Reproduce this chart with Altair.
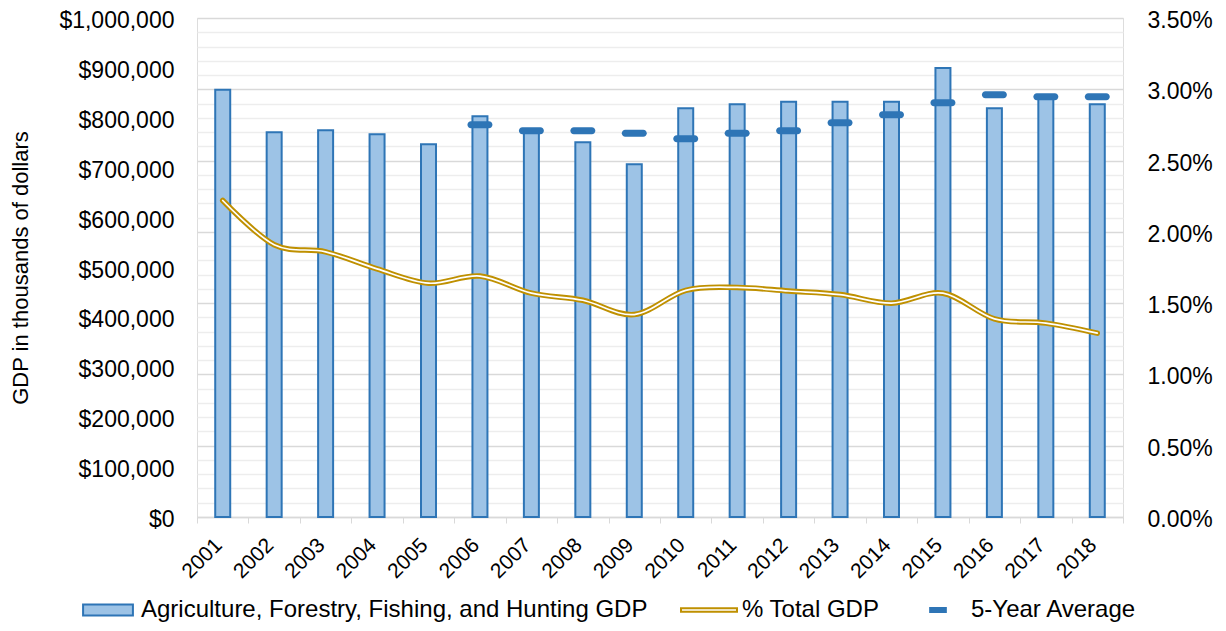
import altair as alt
import pandas as pd

years = [str(y) for y in range(2001, 2019)]
gdp = [856000, 771000, 775000, 767000, 747000, 803000, 772000, 751000, 707000,
       819000, 827000, 832000, 832000, 832000, 900000, 819000, 840000, 827000]
avg5 = [None, None, None, None, None, 786000, 774000, 774000, 769000, 758000,
        769000, 774000, 790000, 806000, 830000, 846000, 842000, 842000]
pct_total = [0.0222, 0.0191, 0.0186, 0.0174, 0.0164, 0.0169, 0.0157, 0.0152, 0.0142,
             0.0159, 0.0161, 0.01585, 0.0156, 0.0150, 0.0157, 0.0139, 0.0136, 0.0129]

gdp_ticks = [0, 100000, 200000, 300000, 400000, 500000, 600000, 700000, 800000, 900000, 1000000]
pct_ticks = [0.000, 0.001, 0.002, 0.003, 0.004, 0.005, 0.006, 0.007, 0.008, 0.009,
             0.010, 0.011, 0.012, 0.013, 0.014, 0.015, 0.016, 0.017, 0.018, 0.019,
             0.020, 0.021, 0.022, 0.023, 0.024, 0.025, 0.026, 0.027, 0.028, 0.029,
             0.030, 0.031, 0.032, 0.033, 0.034, 0.035]
series = ["Agriculture, Forestry, Fishing, and Hunting GDP", "% Total GDP", "5-Year Average"]

df = pd.DataFrame({"year": years, "gdp": gdp, "avg": avg5, "pct": pct_total})
frame_df = pd.DataFrame({"k": [0]})

FONT = "Liberation Sans"
BLUE = "#2E75B6"
LIGHT = "#9DC3E6"
GOLD = "#BF9000"
GRID_MAJOR = "#D9D9D9"
GRID_MINOR = "#EDEDED"

x = alt.X("year:N", title=None,
          scale=alt.Scale(paddingInner=0, paddingOuter=0),
          axis=alt.Axis(labelAngle=-45, labelAlign="right", labelBaseline="top",
                        labelFontSize=21, labelFont=FONT, labelColor="#000000",
                        labelOffset=-12, labelPadding=11,
                        tickBand="extent", tickSize=6, tickColor=GRID_MAJOR, domainColor=GRID_MAJOR,
                        domainWidth=1.5, grid=False))

bars = alt.Chart(df).mark_bar(size=15, fill=LIGHT, stroke=BLUE, strokeWidth=2).encode(
    x=x,
    y=alt.Y("gdp:Q", scale=alt.Scale(domain=[0, 1000000]),
            axis=alt.Axis(orient="left", values=gdp_ticks, format="$,.0f", grid=False,
                          ticks=False, tickSize=0, domain=False, labelPadding=23, labelOffset=2.5,
                          labelFontSize=23, labelFont=FONT, labelColor="#000000",
                          title="GDP in thousands of dollars", titleFontSize=22,
                          titleFont=FONT, titleFontWeight="normal", titleColor="#000000",
                          titleX=-177, titleY=249.5, titleBaseline="middle", titleAlign="center"))
)

avg_ticks = alt.Chart(df).mark_tick(size=25, thickness=7, cornerRadius=3.5, color=BLUE, opacity=1).encode(
    x=x, y=alt.Y("avg:Q")
)

frame = alt.Chart(frame_df).mark_rule(color=GRID_MAJOR, strokeWidth=1.5).encode(
    x=alt.value(1022), y=alt.value(-12), y2=alt.value(610))

y_pct = alt.Y("pct:Q", scale=alt.Scale(domain=[0, 0.035]),
              axis=alt.Axis(orient="right", values=pct_ticks, grid=True,
                            gridColor={"condition": {"test": "round(datum.value*1000) % 5 == 0", "value": GRID_MAJOR},
                                       "value": GRID_MINOR},
                            gridWidth=1.5,
                            labelExpr="round(datum.value*1000) % 5 == 0 ? format(datum.value, '.2%') : ''",
                            labelOverlap=False, ticks=False, tickSize=0, domain=False, labelPadding=24,
                            labelOffset=2.5,
                            labelFontSize=23, labelFont=FONT, labelColor="#000000", title=None))

line_outer = alt.Chart(df).mark_line(color=GOLD, strokeWidth=5.5, interpolate="cardinal", strokeCap="round").encode(
    x=x, y=y_pct)
line_inner = alt.Chart(df).mark_line(color="white", strokeWidth=1.7, interpolate="cardinal", strokeCap="round").encode(
    x=x, y=y_pct)

legend_def = alt.Legend(title=None, orient="none", legendX=-118, legendY=563, direction="horizontal",
                        symbolSize=3136, symbolStrokeWidth=2, symbolOpacity=1,
                        labelFontSize=24, labelFont=FONT, labelColor="#000000", labelOffset=4,
                        columnPadding=29, labelLimit=0)

legend_layer = alt.Chart(df).transform_calculate(series="'x'").transform_filter("false").mark_point(
    filled=True, opacity=1, strokeWidth=2).encode(
    fill=alt.Fill("series:N", scale=alt.Scale(domain=series, range=[LIGHT, "#FFFFFF", BLUE]), legend=legend_def),
    stroke=alt.Stroke("series:N", scale=alt.Scale(domain=series, range=[BLUE, GOLD, BLUE]), legend=legend_def),
    shape=alt.Shape("series:N", scale=alt.Scale(domain=series, range=[
        "M-0.89,-0.2H0.89V0.2H-0.89Z",
        "M-1,-0.06H1V0.06H-1Z",
        "M-0.28,-0.07H0.28V0.07H-0.28Z"]), legend=legend_def),
)

left = alt.layer(frame, bars, avg_ticks)
right = alt.layer(line_outer, line_inner, legend_layer)

chart = alt.layer(left, right).resolve_scale(y="independent").properties(
    width=926, height=499,
    autosize=alt.AutoSizeParams(type="none"),
    padding={"left": 189, "top": 10, "right": 95, "bottom": 106},
).configure_view(stroke=None).configure(font=FONT, background="white")

chart.save("out.html", embed_options={"renderer": "svg", "actions": False})
